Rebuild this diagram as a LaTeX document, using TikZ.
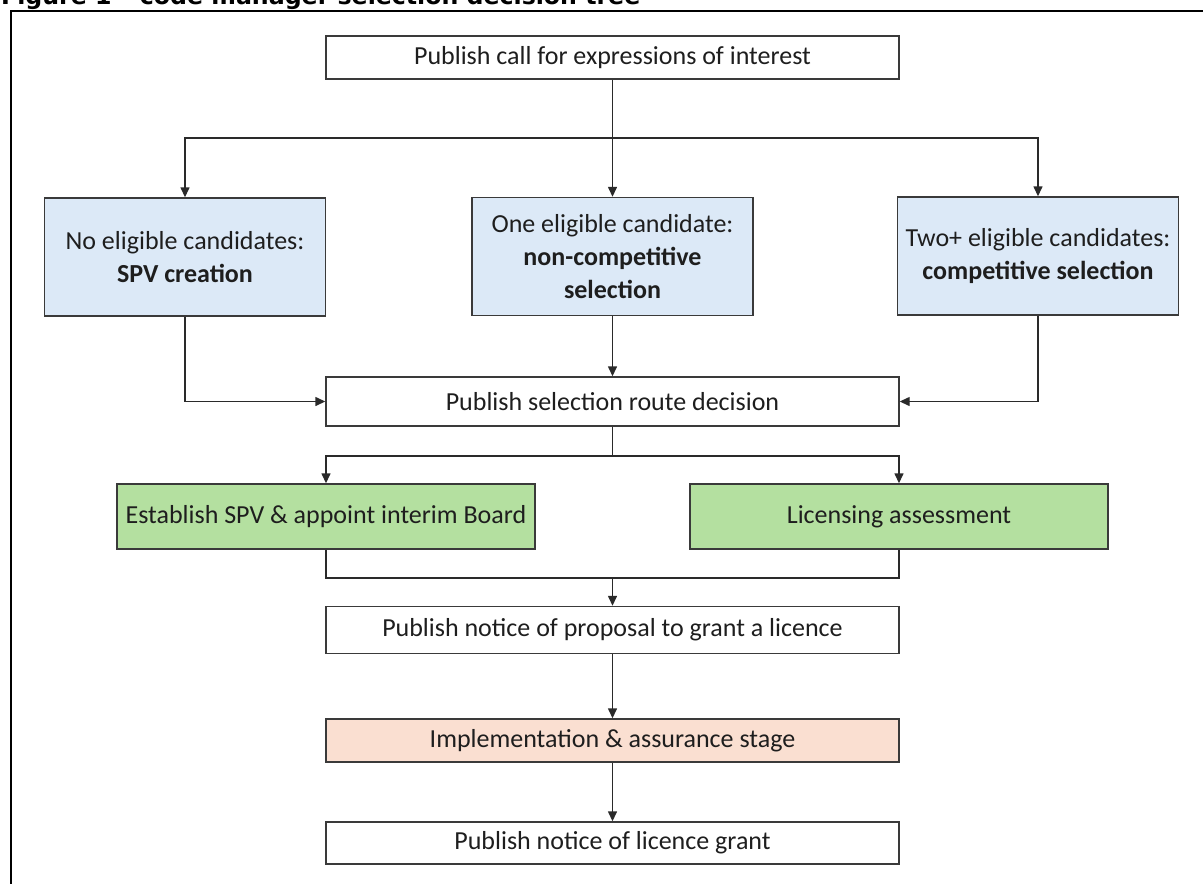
\documentclass[tikz,border=0pt]{standalone}
\usepackage{fontspec}
\setmainfont{Carlito}
\newfontfamily\titlefont{DejaVu Sans}
\usetikzlibrary{arrows.meta}
\definecolor{boxblue}{HTML}{DCE9F7}
\definecolor{boxgreen}{HTML}{B4E0A0}
\definecolor{boxpeach}{HTML}{FADFD1}
\definecolor{boxline}{HTML}{3A3A3A}
\definecolor{linecol}{HTML}{2A2A2A}
\definecolor{textcol}{HTML}{1E1E1E}
\begin{document}
\begin{tikzpicture}[x=1pt,y=-1pt,
  box/.style={draw=boxline, line width=1.4pt, inner sep=0pt, align=center,
    font=\fontsize{26}{33}\selectfont, text=textcol, fill=white},
  wide/.style={box, minimum width=573pt},
  blue/.style={box, fill=boxblue, minimum width=281pt, minimum height=118pt},
  green/.style={box, fill=boxgreen, minimum width=418pt, minimum height=65pt},
  arr/.style={line width=1.4pt, draw=linecol, -{Triangle[length=10pt,width=9pt]}},
  ln/.style={line width=1.4pt, draw=linecol}]
\useasboundingbox (0,0) rectangle (1203,884);
\clip (0,0) rectangle (1203,884);
% title and frame
\node[anchor=base west, inner sep=0pt] (title) at (1,4)
  {\resizebox{639pt}{!}{\titlefont\bfseries Figure 1 – code manager selection decision tree}};
\draw[line width=2pt, black] (1203,11) -- (11,11) -- (11,884);
% nodes
\node[wide, minimum height=43pt] (top) at (612.5,57.5) {Publish call for expressions of interest};
\node[blue] (b1) at (185,257) {No eligible candidates:\\\textbf{SPV creation}};
\node[blue] (b2) at (612.5,256.5) {One eligible candidate:\\\textbf{non-competitive}\\\textbf{selection}};
\node[blue] (b3) at (1038,256) {Two+ eligible candidates:\\\textbf{competitive selection}};
\node[wide, minimum height=49pt] (route) at (612.5,401.5) {Publish selection route decision};
\node[green] (g1) at (326,516.5) {Establish SPV \& appoint interim Board};
\node[green] (g2) at (899,516.5) {Licensing assessment};
\node[wide, minimum height=47pt] (prop) at (612.5,630) {Publish notice of proposal to grant a licence};
\node[wide, fill=boxpeach, minimum height=43pt] (impl) at (612.5,740.5) {Implementation \& assurance stage};
\node[wide, minimum height=42pt] (final) at (612.5,843) {Publish notice of licence grant};
% connectors
\coordinate (s1) at (612.5,138);
\coordinate (s2) at (612.5,456);
\coordinate (m3) at (612.5,578);
\draw[arr] (top.south) -- (b2.north);
\draw[arr] (s1) -| (b1.north);
\draw[arr] (s1) -| (b3.north);
\draw[arr] (b1.south) |- (route.west);
\draw[arr] (b3.south) |- (route.east);
\draw[arr] (b2.south) -- (route.north);
\draw[ln] (route.south) -- (s2);
\draw[arr] (s2) -| (g1.north);
\draw[arr] (s2) -| (g2.north);
\draw[ln] (g1.south) |- (m3);
\draw[ln] (g2.south) |- (m3);
\draw[arr] (m3) -- (prop.north);
\draw[arr] (prop.south) -- (impl.north);
\draw[arr] (impl.south) -- (final.north);
\end{tikzpicture}
\end{document}
